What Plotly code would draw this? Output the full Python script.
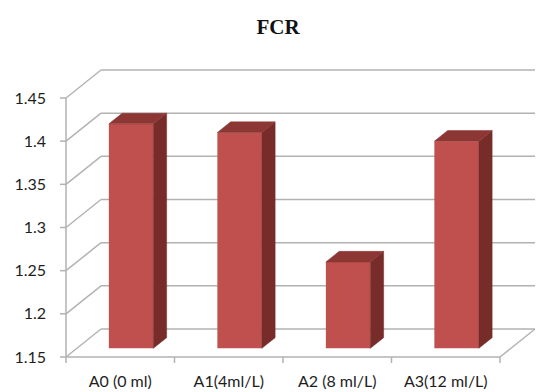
import plotly.graph_objects as go

# FCR per treatment
categories = ["A0 (0 ml)", "A1(4ml/L)", "A2 (8 ml/L)", "A3(12 ml/L)"]
fcr_values = [1.41, 1.40, 1.25, 1.39]
y_ticks = [1.15, 1.20, 1.25, 1.30, 1.35, 1.40, 1.45]
y_tick_text = ["1.15", "1.2", "1.25", "1.3", "1.35", "1.4", "1.45"]

W, H = 536, 392
PX_X = 108.5            # pixels per category
PX_Y = 863.3            # pixels per FCR unit
DX = 35 / PX_X          # oblique depth offset (x, category units)
DV = 28 / PX_Y          # oblique depth offset (y, value units)
BASE = y_ticks[0]
TOP = y_ticks[-1]
BAR_W = 0.41
D0, DEPTH = 0.31, 0.38  # bar front position and bar depth (fraction of wall depth)

ML, MR, MT, MB = 50, 0, 60, 26
x0 = -0.5 - 16 / PX_X
x1 = x0 + (W - ML - MR) / PX_X
y0 = BASE - 9 / PX_Y
y1 = y0 + (H - MT - MB) / PX_Y

n = len(categories)
GRID = "#B2B2B2"
FRONT, TOPC, SIDE = "#C0504D", "#8C3734", "#772C2A"

shapes = []


def seg(xa, ya, xb, yb, color=GRID, width=1.5):
    shapes.append(dict(type="line", xref="x", yref="y", x0=xa, y0=ya, x1=xb, y1=yb,
                       line=dict(color=color, width=width), layer="below"))


left, right = -0.5, n - 0.5
# back wall gridlines and left wall diagonals
for v in y_ticks:
    seg(left + DX, v + DV, right + DX, v + DV)
    seg(left, v, left + DX, v + DV)
    seg(left - 6 / PX_X, v, left, v)          # y tick marks
# floor
seg(left, BASE, right, BASE)
seg(right, BASE, right + DX, BASE + DV)
# front value axis
seg(left, BASE, left, TOP)
# category tick marks
for k in range(n + 1):
    xb = left + k
    seg(xb, BASE, xb, BASE - 6 / PX_Y)

fig = go.Figure()

# front faces
fig.add_trace(go.Bar(
    x=[i + D0 * DX for i in range(n)],
    y=[v - BASE for v in fcr_values],
    base=[BASE + D0 * DV] * n,
    width=BAR_W,
    marker=dict(color=FRONT, line=dict(width=0)),
    hoverinfo="skip",
))

# top and side faces
for i, v in enumerate(fcr_values):
    xl = i - BAR_W / 2 + D0 * DX
    xr = i + BAR_W / 2 + D0 * DX
    t0 = v + D0 * DV
    b0 = BASE + D0 * DV
    ddx, ddv = DEPTH * DX, DEPTH * DV
    fig.add_trace(go.Scatter(
        x=[xr, xr, xr + ddx, xr + ddx, xr], y=[b0, t0, t0 + ddv, b0 + ddv, b0],
        mode="lines", fill="toself", fillcolor=SIDE, line=dict(color=SIDE, width=0.5),
        hoverinfo="skip"))
    fig.add_trace(go.Scatter(
        x=[xl, xr, xr + ddx, xl + ddx, xl], y=[t0, t0, t0 + ddv, t0 + ddv, t0],
        mode="lines", fill="toself", fillcolor=TOPC, line=dict(color=TOPC, width=0.5),
        hoverinfo="skip"))

font = dict(family="Lato, 'Noto Sans', sans-serif", size=16, color="#1E1E1E")

fig.update_layout(
    width=W, height=H,
    margin=dict(l=ML, r=MR, t=MT, b=MB),
    paper_bgcolor="white", plot_bgcolor="white",
    showlegend=False,
    shapes=shapes,
    title=dict(text="<b>FCR</b>", x=278 / W, xanchor="center", y=1 - 27 / H,
               yanchor="middle", yref="container",
               font=dict(family="'Liberation Serif', serif", size=21, color="#111111")),
    xaxis=dict(range=[x0, x1], tickvals=list(range(n)), ticktext=categories,
               ticks="", showgrid=False, zeroline=False, showline=False,
               tickfont=font, automargin=False, ticklabelstandoff=4, fixedrange=True),
    yaxis=dict(range=[y0, y1], tickvals=y_ticks, ticktext=y_tick_text,
               ticks="", showgrid=False, zeroline=False, showline=False,
               tickfont=font, automargin=False, ticklabelstandoff=3, fixedrange=True),
)

fig.write_html("out.html")
